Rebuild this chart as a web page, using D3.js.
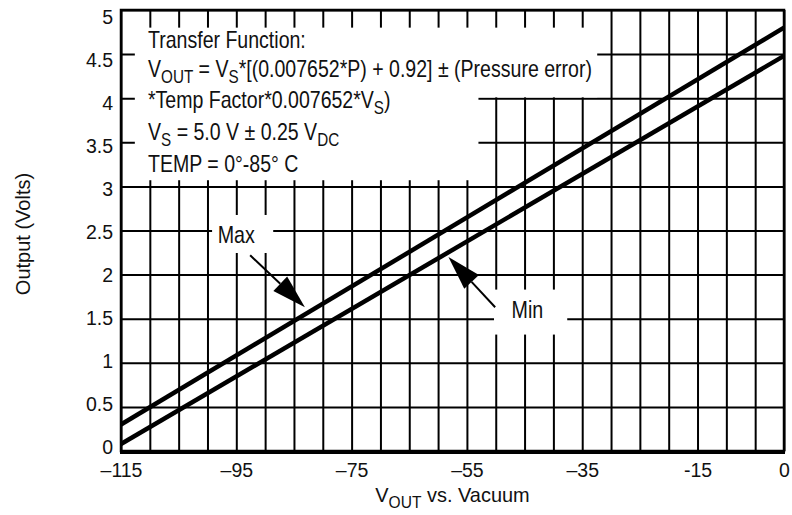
<!DOCTYPE html>
<html lang="en">
<head>
<meta charset="UTF-8">
<title>Output vs Vacuum</title>
<script src="https://cdnjs.cloudflare.com/ajax/libs/d3/7.8.5/d3.min.js"></script>
<style>
    body {
        margin: 0;
        background: #fff;
        font-family: "Liberation Sans", Arial, sans-serif;
    }
    svg text { fill: #111; }
    .tick line { stroke: #000; }
</style>
</head>
<body>
<div id="chart"></div>
<script>
    // axis ticks
    const xTicks = [-115, -95, -75, -55, -35, -15, 0];
    const xTickLabels = ["\u2013115", "\u201395", "\u201375", "\u201355", "\u201335", "-15", "0"];
    const yTicks = [0, 0.5, 1, 1.5, 2, 2.5, 3, 3.5, 4, 4.5, 5];
    const yTickLabels = ["0", "0.5", "1", "1.5", "2", "2.5", "3", "3.5", "4", "4.5", "5"];

    // the two limit lines (pressure, output volts)
    const pressure = [-115, 0];
    const maxOutput = [0.3, 4.8];
    const minOutput = [0.08, 4.48];

    // transfer function note, [text, isSubscript]
    const noteLines = [
        [["Transfer Function:"]],
        [["V"], ["OUT", 1], [" = V"], ["S", 1], ["*[(0.007652*P) + 0.92] \u00b1 (Pressure error)"]],
        [["*Temp Factor*0.007652*V"], ["S", 1], [")"]],
        [["V"], ["S", 1], [" = 5.0 V \u00b1 0.25 V"], ["DC", 1]],
        [["TEMP = 0\u00b0-85\u00b0 C"]]
    ];

    const width = 792, height = 515;
    const plotL = 121, plotR = 784, plotT = 10, plotB = 451;

    const svg = d3.select("#chart").append("svg")
        .attr("width", width)
        .attr("height", height);

    const x = d3.scaleLinear().domain([-115, 0]).range([plotL, plotR]);
    const y = d3.scaleLinear().domain([0, 5]).range([plotB, plotT]);
    // tick label baselines sit a little off the grid in the original
    const yLab = d3.scaleLinear().domain([0, 5]).range([plotB + 2, plotT + 13]);

    // grid
    svg.append("g")
        .attr("transform", `translate(0,${plotB})`)
        .call(d3.axisBottom(x).tickValues(d3.range(-115, 1, 5)).tickSize(-(plotB - plotT)).tickFormat(""))
        .call(g => g.select(".domain").remove())
        .selectAll("line").attr("stroke-width", 2);

    svg.append("g")
        .attr("transform", `translate(${plotL},0)`)
        .call(d3.axisLeft(y).tickValues(yTicks).tickSize(-(plotR - plotL)).tickFormat(""))
        .call(g => g.select(".domain").remove())
        .selectAll("line").attr("stroke-width", 2);

    // white boxes behind the notes
    function whiteBox(x0, x1, y0, y1) {
        svg.append("rect")
            .attr("x", x(x0)).attr("y", y(y1))
            .attr("width", x(x1) - x(x0)).attr("height", y(y0) - y(y1))
            .attr("fill", "#fff");
    }
    whiteBox(-112.6, -32.4, 4.01, 4.8);
    whiteBox(-112.6, -53, 3.07, 4.02);
    whiteBox(-99.2, -88.6, 2.245, 2.676);
    whiteBox(-50.3, -37.6, 1.32, 1.83);

    // limit lines
    const line = d3.line().x(d => x(d[0])).y(d => y(d[1]));
    [maxOutput, minOutput].forEach(s => {
        svg.append("path")
            .attr("d", line(pressure.map((p, i) => [p, s[i]])))
            .attr("fill", "none")
            .attr("stroke", "#000")
            .attr("stroke-width", 4.5);
    });

    // frame
    svg.append("rect")
        .attr("x", plotL).attr("y", plotT)
        .attr("width", plotR - plotL).attr("height", plotB - plotT)
        .attr("fill", "none").attr("stroke", "#000").attr("stroke-width", 2.5);
    svg.append("line")
        .attr("x1", plotL - 1).attr("x2", plotR + 1)
        .attr("y1", plotB + 1).attr("y2", plotB + 1)
        .attr("stroke", "#000").attr("stroke-width", 4);

    // axes labels
    svg.append("g")
        .attr("transform", `translate(0,${plotB})`)
        .call(d3.axisBottom(x).tickValues(xTicks).tickFormat((d, i) => xTickLabels[i]).tickSize(0).tickPadding(12))
        .call(g => g.select(".domain").remove())
        .selectAll("text")
        .style("font-size", "19.5px")
        .style("font-family", "'Liberation Sans', Arial, sans-serif");

    svg.append("g")
        .attr("transform", `translate(${plotL},0)`)
        .call(d3.axisLeft(y).tickValues(yTicks).tickFormat((d, i) => yTickLabels[i]).tickSize(0).tickPadding(8))
        .call(g => g.select(".domain").remove())
        .selectAll("text")
        .attr("dy", d => yLab(d) - y(d))
        .style("font-size", "19.5px")
        .style("font-family", "'Liberation Sans', Arial, sans-serif");

    svg.append("text")
        .attr("transform", `translate(30,234) rotate(-90)`)
        .attr("text-anchor", "middle")
        .style("font-size", "20px")
        .text("Output (Volts)");

    // text with subscripts, squeezed horizontally
    function richText(px, py, parts, size, sx, anchor) {
        const t = svg.append("g")
            .attr("transform", `translate(${px},${py}) scale(${sx},1)`)
            .append("text")
            .attr("text-anchor", anchor || "start")
            .style("font-size", size + "px");
        let shifted = false;
        parts.forEach(p => {
            const sub = !!p[1];
            const ts = t.append("tspan").text(p[0]);
            if (sub) ts.style("font-size", (size * 0.78) + "px");
            if (sub !== shifted) ts.attr("dy", sub ? size * 0.28 : -size * 0.28);
            shifted = sub;
        });
        return t;
    }

    richText(x(-57.5), 502, [["V"], ["OUT", 1], [" vs. Vacuum"]], 21, 0.95, "middle");

    const noteY = [48, 77, 108, 140, 172];
    noteLines.forEach((ln, i) => richText(148, noteY[i], ln, 23, 0.85));

    // Max / Min callouts
    richText(x(-95), y(2.36), [["Max"]], 24, 0.82, "middle");
    richText(x(-44.5), y(1.51), [["Min"]], 24, 0.82, "middle");

    function arrow(from, to) {
        const x0 = x(from[0]), y0 = y(from[1]), x1 = x(to[0]), y1 = y(to[1]);
        const len = Math.hypot(x1 - x0, y1 - y0);
        const ux = (x1 - x0) / len, uy = (y1 - y0) / len;
        const hl = 34, hw = 10;
        const bx = x1 - ux * hl, by = y1 - uy * hl;
        svg.append("line")
            .attr("x1", x0).attr("y1", y0).attr("x2", bx).attr("y2", by)
            .attr("stroke", "#000").attr("stroke-width", 2);
        svg.append("path")
            .attr("d", `M${x1},${y1}L${bx - uy * hw},${by + ux * hw}L${bx + uy * hw},${by - ux * hw}Z`)
            .attr("fill", "#000");
    }
    arrow([-92.6, 2.22], [-83.1, 1.63]);
    arrow([-50.1, 1.63], [-58.2, 2.2]);
</script>
</body>
</html>
